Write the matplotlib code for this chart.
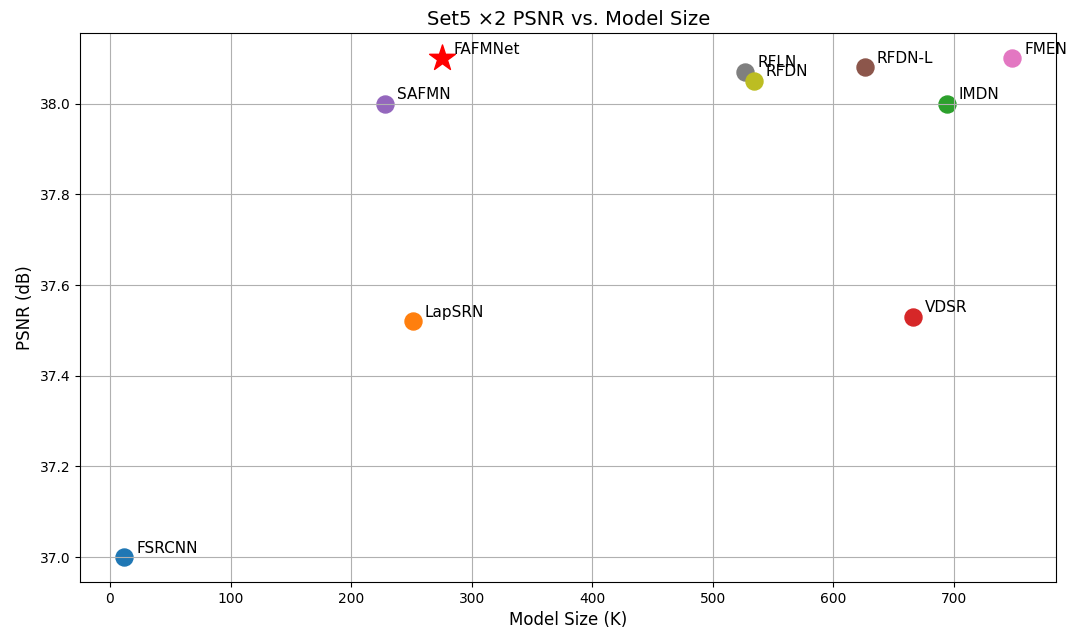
import matplotlib
matplotlib.use('Agg')
import matplotlib.pyplot as plt

# models compared on Set5 x2
models = ['FSRCNN', 'LapSRN', 'IMDN', 'VDSR', 'SAFMN', 'RFDN-L', 'FMEN', 'RFLN', 'RFDN']
params_k = [12, 251, 694, 666, 228, 626, 748, 527, 534]
psnr = [37.00, 37.52, 38.00, 37.53, 38.00, 38.08, 38.10, 38.07, 38.05]

# proposed model
ours_name = 'FAFMNet'
ours_params = 275
ours_psnr = 38.10

fig, ax = plt.subplots(figsize=(10.67, 6.3), dpi=100)
fig.subplots_adjust(left=0.075, right=0.99, top=0.947, bottom=0.076)

for name, x, y in zip(models, params_k, psnr):
    ax.scatter(x, y, s=150)
    ax.text(x + 10, y + 0.01, name, fontsize=11)

ax.scatter(ours_params, ours_psnr, s=380, marker='*', color='red')
ax.text(ours_params + 10, ours_psnr + 0.01, ours_name, fontsize=11)

ax.set_title('Set5 ×2 PSNR vs. Model Size', fontsize=14)
ax.set_xlabel('Model Size (K)', fontsize=12)
ax.set_ylabel('PSNR (dB)', fontsize=12)
ax.grid(True)

plt.savefig('out.png')
